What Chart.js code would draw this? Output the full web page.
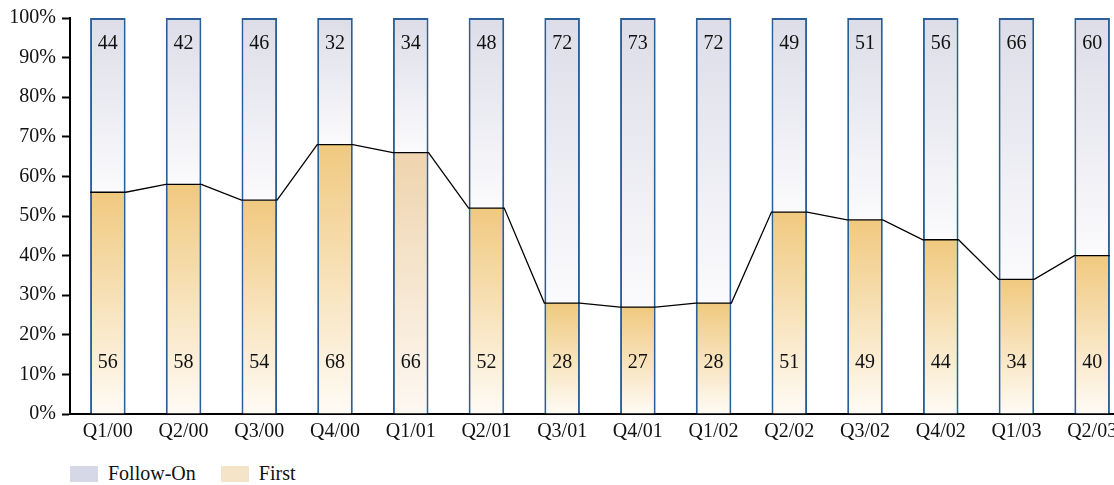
<!DOCTYPE html>
<html>
<head>
<meta charset="utf-8">
<script src="https://cdn.jsdelivr.net/npm/chart.js@4/dist/chart.umd.min.js"></script>
<style>
  html, body { margin: 0; padding: 0; background: #fff; overflow: hidden; }
  #wrap { position: relative; width: 1130px; height: 450px; }
  #legend { position: absolute; left: 70px; top: 462px; font: 20px "Liberation Serif", serif; color: #111; }
  #legend span.box { display: inline-block; width: 28px; height: 16px; vertical-align: -2px; margin-right: 10px; }
  #legend span.item { margin-right: 20px; }
</style>
</head>
<body>
<div id="wrap"><canvas id="chart"></canvas></div>
<div id="legend">
  <span class="item"><span class="box" style="background:#d6d8e7"></span>Follow-On</span>
  <span class="item"><span class="box" style="background:#f6e4c9"></span>First</span>
</div>
<script>
var quarters = ["Q1/00", "Q2/00", "Q3/00", "Q4/00", "Q1/01", "Q2/01", "Q3/01",
  "Q4/01", "Q1/02", "Q2/02", "Q3/02", "Q4/02", "Q1/03", "Q2/03"];
var firstDeals = [56, 58, 54, 68, 66, 52, 28, 27, 28, 51, 49, 44, 34, 40];
var followOnDeals = [44, 42, 46, 32, 34, 48, 72, 73, 72, 49, 51, 56, 66, 60];

var serif = "'Liberation Serif', serif";
var barBorder = "#2b5f97";

// gradient per bar, from its bottom to its top
function barGradient(ctx, base, top, bottomColor, topColor) {
  var chart = ctx.chart;
  if (!chart.chartArea) return topColor;
  var y = chart.scales.y;
  var g = chart.ctx.createLinearGradient(0, y.getPixelForValue(base), 0, y.getPixelForValue(top));
  g.addColorStop(0, bottomColor);
  g.addColorStop(1, topColor);
  return g;
}

// dataset 0 = First, dataset 1 = Follow-On
var connectLine = {
  id: "connectLine",
  afterDatasetsDraw: function (chart) {
    var bars = chart.getDatasetMeta(0).data;
    var c = chart.ctx;
    c.save();
    c.strokeStyle = "#000";
    c.lineWidth = 1.3;
    c.beginPath();
    bars.forEach(function (b, i) {
      var x0 = b.x - b.width / 2, x1 = b.x + b.width / 2;
      if (i === 0) c.moveTo(x0, b.y); else c.lineTo(x0, b.y);
      c.lineTo(x1, b.y);
    });
    c.stroke();
    c.restore();
  }
};

var barLabels = {
  id: "barLabels",
  afterDatasetsDraw: function (chart) {
    var c = chart.ctx;
    var y = chart.scales.y;
    var bars = chart.getDatasetMeta(0).data;
    c.save();
    c.font = "20px " + serif;
    c.fillStyle = "#111";
    c.textAlign = "center";
    c.textBaseline = "middle";
    bars.forEach(function (b, i) {
      c.fillText(followOnDeals[i], b.x, y.getPixelForValue(100) + 26);
      c.fillText(firstDeals[i], b.x, y.getPixelForValue(0) - 51);
    });
    c.restore();
  }
};

var chart = new Chart(document.getElementById("chart"), {
  type: "bar",
  data: {
    labels: quarters,
    datasets: [
      {
        label: "First",
        data: firstDeals,
        backgroundColor: function (ctx) {
          var v = firstDeals[ctx.dataIndex];
          if (ctx.dataIndex === 4) return barGradient(ctx, 0, v, "#fdf8f2", "#efd4ae");
          return barGradient(ctx, 0, v, "#fffbf5", "#f0c97f");
        },
        borderColor: barBorder,
        borderWidth: { top: 0, left: 2, right: 2, bottom: 0 },
        borderSkipped: false
      },
      {
        label: "Follow-On",
        data: followOnDeals,
        backgroundColor: function (ctx) {
          var first = firstDeals[ctx.dataIndex];
          return barGradient(ctx, first, 100, "#fbfbfd", "#dcdde8");
        },
        borderColor: barBorder,
        borderWidth: { top: 2, left: 2, right: 2, bottom: 0 },
        borderSkipped: false
      }
    ]
  },
  options: {
    responsive: true,
    maintainAspectRatio: false,
    animation: false,
    layout: { padding: { top: 18, left: 0, right: 0, bottom: 0 } },
    plugins: {
      legend: { display: false },
      tooltip: { enabled: false }
    },
    datasets: {
      bar: { categoryPercentage: 1, barPercentage: 0.47 }
    },
    scales: {
      x: {
        stacked: true,
        grid: { display: false, drawTicks: false },
        border: { color: "#000", width: 2 },
        ticks: { color: "#111", font: { family: serif, size: 20 }, padding: 6, maxRotation: 0, autoSkip: false }
      },
      y: {
        stacked: true,
        min: 0,
        max: 100,
        afterFit: function (scale) { scale.width = 70; },
        grid: { drawOnChartArea: false, drawTicks: true, tickLength: 8, tickColor: "#000", tickWidth: 2 },
        border: { color: "#000", width: 2 },
        ticks: {
          stepSize: 10,
          color: "#111",
          padding: 6,
          font: { family: serif, size: 20 },
          callback: function (v) { return v + "%"; }
        }
      }
    }
  },
  plugins: [connectLine, barLabels]
});
</script>
</body>
</html>
